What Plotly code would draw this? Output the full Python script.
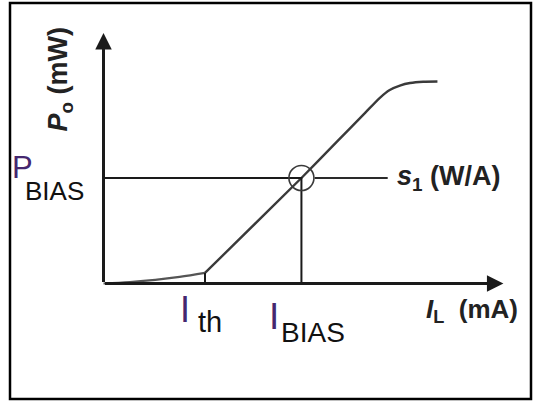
import plotly.graph_objects as go

# ---------------- data (current in mA, optical power in mW) ----------------
current_spont = [0.0, 2.6, 5.1, 7.5, 10.0]
power_spont = [0.0, 0.07, 0.17, 0.31, 0.50]

current_lasing = [10.0, 19.5, 23.0, 25.8, 27.2, 28.2, 29.2, 30.2, 31.5, 32.9]
power_lasing = [0.50, 5.00, 6.72, 8.10, 8.79, 9.17, 9.38, 9.50, 9.56, 9.57]

I_TH = 10.0        # threshold current
P_TH = 0.50        # power at threshold
I_BIAS = 19.5      # bias current
P_BIAS = 5.0       # bias power
I_AXIS_END = 39.4  # x-axis arrow tip
P_AXIS_END = 11.87 # y-axis arrow tip
slope_line_current = [20.8, 28.0]

tick_labels = {"P": "P", "P_sub": "BIAS", "Ith": "I", "Ith_sub": "th",
               "Ib": "I", "Ib_sub": "BIAS"}

# ---------------- scales ----------------
W, H = 536, 403
KX, KY = 10.15, 21.1          # px per mA, px per mW
X0, Y0 = 103.5, 283.5         # pixel position of origin
x_range = [-X0 / KX, (W - X0) / KX]
y_range = [(Y0 - H) / KY, Y0 / KY]

AX = "#1a1a1a"
PURPLE = "#45276f"
FONT = "Liberation Sans, Arial, sans-serif"

fig = go.Figure()

# spontaneous emission region
fig.add_trace(go.Scatter(x=current_spont, y=power_spont, mode="lines",
                         line=dict(color="#555", width=2.2, shape="spline"),
                         hoverinfo="skip"))
# lasing region
fig.add_trace(go.Scatter(x=current_lasing, y=power_lasing, mode="lines",
                         line=dict(color="#3a3a3a", width=2.4, shape="spline", smoothing=0.6),
                         hoverinfo="skip"))
# threshold tick
fig.add_trace(go.Scatter(x=[I_TH, I_TH], y=[0, P_TH], mode="lines",
                         line=dict(color=AX, width=2), hoverinfo="skip"))
# bias guide lines
fig.add_trace(go.Scatter(x=[0, I_BIAS, I_BIAS], y=[P_BIAS, P_BIAS, 0], mode="lines",
                         line=dict(color=AX, width=2), hoverinfo="skip"))
# slope indicator line
fig.add_trace(go.Scatter(x=slope_line_current, y=[P_BIAS, P_BIAS], mode="lines",
                         line=dict(color="#2a2a2a", width=2), hoverinfo="skip"))
# operating point circle
fig.add_trace(go.Scatter(x=[I_BIAS], y=[P_BIAS], mode="markers",
                         marker=dict(symbol="circle-open", size=25, color="#3a3a3a",
                                     line=dict(width=1.6)),
                         hoverinfo="skip"))

# axes with arrows
fig.add_annotation(x=I_AXIS_END, y=0, ax=0, ay=0, xref="x", yref="y", axref="x", ayref="y",
                   text="", showarrow=True, arrowhead=2, arrowsize=1.1, arrowwidth=3,
                   arrowcolor=AX, standoff=0)
fig.add_annotation(x=0, y=P_AXIS_END, ax=0, ay=0, xref="x", yref="y", axref="x", ayref="y",
                   text="", showarrow=True, arrowhead=2, arrowsize=1.1, arrowwidth=3,
                   arrowcolor=AX, standoff=0)

def label(text, x, y, size, color, xshift, yshift, xanchor="left", angle=0):
    fig.add_annotation(x=x, y=y, xref="x", yref="y", text=text, showarrow=False,
                       xanchor=xanchor, yanchor="middle", xshift=xshift, yshift=yshift,
                       textangle=angle,
                       font=dict(family=FONT, size=size, color=color))

# P_BIAS label
label(tick_labels["P"], 0, P_BIAS, 31, PURPLE, -94, 10.7)
label(tick_labels["P_sub"], 0, P_BIAS, 26, "#111", -80.7, -12.5)
# I_th label
label(tick_labels["Ith"], I_TH, 0, 36, PURPLE, -27.4, -25.5)
label(tick_labels["Ith_sub"], I_TH, 0, 29, "#111", -9.5, -38.2)
# I_BIAS label
label(tick_labels["Ib"], I_BIAS, 0, 37, PURPLE, -34.3, -33.2)
label(tick_labels["Ib_sub"], I_BIAS, 0, 28, "#111", -22, -48.5)
# slope label
label("<b><i>s</i><sub>1</sub> (W/A)</b>", slope_line_current[1], P_BIAS, 27, "#222", 7, 0)
# x-axis title
label("<b><i>I</i><sub>L</sub>&nbsp; (mA)</b>", I_AXIS_END, 0, 26, "#222", 17, -27,
      xanchor="right")
# y-axis title
label("<b><i>P</i><sub>o</sub> (mW)</b>", 0, P_AXIS_END, 27, "#222", -43, -46,
      xanchor="center", angle=-90)

# frame
fig.add_shape(type="rect", xref="paper", yref="paper",
              x0=10 / W, x1=531 / W, y0=1 - 399 / H, y1=1 - 3 / H,
              line=dict(color="#000", width=2.5))

fig.update_layout(width=W, height=H, margin=dict(l=0, r=0, t=0, b=0, pad=0),
                  paper_bgcolor="white", plot_bgcolor="white", showlegend=False,
                  xaxis=dict(range=x_range, visible=False, fixedrange=True),
                  yaxis=dict(range=y_range, visible=False, fixedrange=True))

fig.write_html("out.html", config=dict(displayModeBar=False, staticPlot=True),
               post_script="document.body.style.margin='0px';document.body.style.overflow='hidden';")
